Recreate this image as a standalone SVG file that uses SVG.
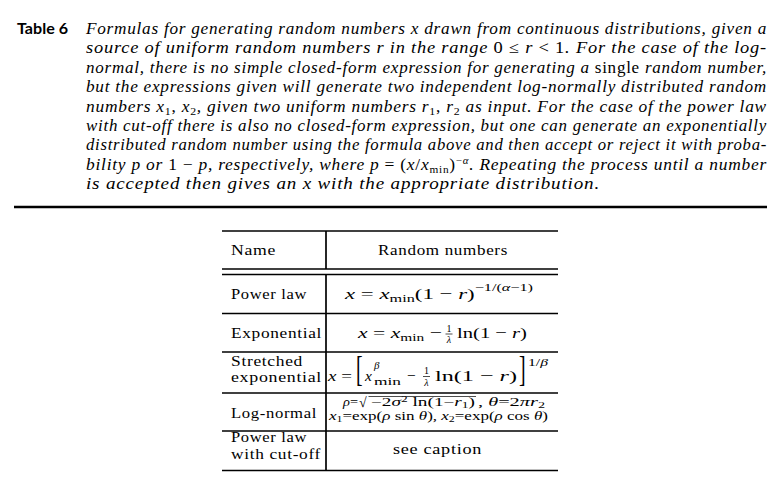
<svg xmlns="http://www.w3.org/2000/svg" width="783" height="485" viewBox="0 0 783 485">
<style>
  .cap { font-family: "Liberation Serif", "Times New Roman", serif; font-style: italic; font-size: 16.2px; letter-spacing: 0.7px; fill: #000; }
  .up { font-style: normal; }
  .lbl { font-family: "Liberation Serif", "Times New Roman", serif; font-size: 15.5px; letter-spacing: 0.6px; fill: #000; }
  .m { font-family: "Liberation Serif", "Times New Roman", serif; font-size: 15.5px; fill: #000; }
  .i { font-style: italic; }
  .s { font-size: 11px; }
  .sm { font-family: "Liberation Serif", "Times New Roman", serif; font-size: 11.5px; fill: #000; }
  .fr { font-family: "Liberation Serif", "Times New Roman", serif; font-size: 10px; fill: #000; }
  .big { font-family: "Liberation Serif", "Times New Roman", serif; font-size: 36px; fill: #000; }
  .rule { stroke: #000; stroke-width: 1.7; }
  .bar { stroke: #000; stroke-width: 0.7; }
</style>
<rect width="783" height="485" fill="#fff"/>

<g id="caption">
  <text x="17" y="34" font-family="Lato, 'Open Sans', sans-serif" font-weight="bold" font-size="16" textLength="51" lengthAdjust="spacingAndGlyphs">Table 6</text>
  <text class="cap" x="86" y="34" textLength="681" lengthAdjust="spacingAndGlyphs">Formulas for generating random numbers x drawn from continuous distributions, given a</text>
  <text class="cap" x="86" y="53.4" textLength="681" lengthAdjust="spacingAndGlyphs">source of uniform random numbers r in the range <tspan class="up">0 ≤ </tspan>r<tspan class="up"> &lt; 1</tspan>.  For the case of the log-</text>
  <text class="cap" x="86" y="72.8" textLength="681" lengthAdjust="spacingAndGlyphs">normal, there is no simple closed-form expression for generating a <tspan class="up">single</tspan> random number,</text>
  <text class="cap" x="86" y="92.2" textLength="681" lengthAdjust="spacingAndGlyphs">but the expressions given will generate two independent log-normally distributed random</text>
  <text class="cap" x="86" y="111.6" textLength="681" lengthAdjust="spacingAndGlyphs">numbers x<tspan class="up" font-size="11" dy="3">1</tspan><tspan class="up" dy="-3">, </tspan>x<tspan class="up" font-size="11" dy="3">2</tspan><tspan dy="-3">, given two uniform numbers r</tspan><tspan class="up" font-size="11" dy="3">1</tspan><tspan class="up" dy="-3">, </tspan>r<tspan class="up" font-size="11" dy="3">2</tspan><tspan dy="-3"> as input. For the case of the power law</tspan></text>
  <text class="cap" x="86" y="131" textLength="681" lengthAdjust="spacingAndGlyphs">with cut-off there is also no closed-form expression, but one can generate an exponentially</text>
  <text class="cap" x="86" y="150.4" textLength="681" lengthAdjust="spacingAndGlyphs">distributed random number using the formula above and then accept or reject it with proba-</text>
  <text class="cap" x="86" y="169.8" textLength="681" lengthAdjust="spacingAndGlyphs">bility p or <tspan class="up">1 − </tspan>p, respectively, where p <tspan class="up">= (</tspan>x<tspan class="up">/</tspan>x<tspan class="up" font-size="10.5" dy="3">min</tspan><tspan class="up" dy="-3">)</tspan><tspan class="up" font-size="10" dy="-5.5">−</tspan><tspan font-size="10">α</tspan><tspan dy="5.5">. Repeating the process until a number</tspan></text>
  <text class="cap" x="86" y="189.2" textLength="514" lengthAdjust="spacingAndGlyphs">is accepted then gives an x with the appropriate distribution.</text>
</g>

<line id="caption-rule" x1="14" y1="207" x2="767" y2="207" stroke="#000" stroke-width="2.6"/>

<g id="table-rules">
  <line class="rule" x1="222" y1="231" x2="558" y2="231"/>
  <line class="rule" x1="222" y1="269" x2="558" y2="269"/>
  <line class="rule" x1="222" y1="274.5" x2="558" y2="274.5"/>
  <line class="rule" x1="222" y1="313.5" x2="558" y2="313.5"/>
  <line class="rule" x1="222" y1="352" x2="558" y2="352"/>
  <line class="rule" x1="222" y1="393" x2="558" y2="393"/>
  <line class="rule" x1="222" y1="431" x2="558" y2="431"/>
  <line class="rule" x1="222" y1="470.5" x2="558" y2="470.5"/>
  <line class="rule" x1="326" y1="231" x2="326" y2="269"/>
  <line class="rule" x1="326" y1="274.5" x2="326" y2="470.5"/>
</g>

<g id="row-header">
  <text class="lbl" x="231" y="255" textLength="45" lengthAdjust="spacingAndGlyphs">Name</text>
  <text class="lbl" x="378" y="255" textLength="130" lengthAdjust="spacingAndGlyphs">Random numbers</text>
</g>

<g id="row-power-law">
  <text class="lbl" x="231" y="299" textLength="76" lengthAdjust="spacingAndGlyphs">Power law</text>
  <text class="m" x="345" y="299" textLength="188" lengthAdjust="spacingAndGlyphs"><tspan class="i">x</tspan> = <tspan class="i">x</tspan><tspan class="s" dy="3">min</tspan><tspan dy="-3">(1 − </tspan><tspan class="i">r</tspan>)<tspan class="s" dy="-8">−1/(</tspan><tspan class="s i">α</tspan><tspan class="s">−1)</tspan></text>
</g>

<g id="row-exponential">
  <text class="lbl" x="231" y="338" textLength="91" lengthAdjust="spacingAndGlyphs">Exponential</text>
  <text class="m" x="358" y="338" textLength="84" lengthAdjust="spacingAndGlyphs"><tspan class="i">x</tspan> = <tspan class="i">x</tspan><tspan class="s" dy="3">min</tspan><tspan dy="-3"> −</tspan></text>
  <text class="fr" x="449" y="331.5" text-anchor="middle">1</text>
  <line class="bar" x1="445.5" y1="334" x2="452.5" y2="334"/>
  <text class="fr i" x="449" y="343" text-anchor="middle">λ</text>
  <text class="m" x="457" y="338" textLength="70" lengthAdjust="spacingAndGlyphs">ln(1 − <tspan class="i">r</tspan>)</text>
</g>

<g id="row-stretched">
  <text class="lbl" x="231" y="366" textLength="72" lengthAdjust="spacingAndGlyphs">Stretched</text>
  <text class="lbl" x="231" y="382" textLength="91" lengthAdjust="spacingAndGlyphs">exponential</text>
  <text class="m" x="328" y="381" textLength="24" lengthAdjust="spacingAndGlyphs"><tspan class="i">x</tspan> =</text>
  <text class="big" x="356" y="381" transform="translate(356 381) scale(0.55 1) translate(-356 -381)">[</text>
  <text class="m i" x="365" y="381">x</text>
  <text class="m i s" x="374" y="369">β</text>
  <text class="m s" x="374" y="385" textLength="27" lengthAdjust="spacingAndGlyphs">min</text>
  <text class="m" x="407" y="381">−</text>
  <text class="fr" x="426.5" y="374" text-anchor="middle">1</text>
  <line class="bar" x1="423" y1="376.5" x2="430" y2="376.5"/>
  <text class="fr i" x="426.5" y="385.5" text-anchor="middle">λ</text>
  <text class="m" x="435" y="381" textLength="82" lengthAdjust="spacingAndGlyphs">ln(1 − <tspan class="i">r</tspan>)</text>
  <text class="big" x="519" y="381" transform="translate(519 381) scale(0.55 1) translate(-519 -381)">]</text>
  <text class="m s" x="528" y="366" textLength="20" lengthAdjust="spacingAndGlyphs">1/<tspan class="i">β</tspan></text>
</g>

<g id="row-log-normal">
  <text class="lbl" x="231" y="418" textLength="86" lengthAdjust="spacingAndGlyphs">Log-normal</text>
  <text class="sm" x="343" y="406" textLength="15" lengthAdjust="spacingAndGlyphs"><tspan class="i">ρ</tspan>=</text>
  <text class="sm" x="359" y="407" style="font-size:14px">√</text>
  <line class="bar" x1="368.5" y1="396.5" x2="476" y2="396.5"/>
  <text class="sm" x="371" y="406" textLength="104" lengthAdjust="spacingAndGlyphs">−2<tspan class="i">σ</tspan><tspan font-size="8" dy="-4">2</tspan><tspan dy="4"> ln(1−</tspan><tspan class="i">r</tspan><tspan font-size="8" dy="2">1</tspan><tspan dy="-2">)</tspan></text>
  <text class="sm" x="478" y="406" textLength="67" lengthAdjust="spacingAndGlyphs">, <tspan class="i">θ</tspan>=2<tspan class="i">πr</tspan><tspan font-size="8" dy="2">2</tspan></text>
  <text class="sm" x="329" y="420" textLength="219" lengthAdjust="spacingAndGlyphs"><tspan class="i">x</tspan><tspan font-size="8" dy="2">1</tspan><tspan dy="-2">=exp(</tspan><tspan class="i">ρ</tspan> sin <tspan class="i">θ</tspan>), <tspan class="i">x</tspan><tspan font-size="8" dy="2">2</tspan><tspan dy="-2">=exp(</tspan><tspan class="i">ρ</tspan> cos <tspan class="i">θ</tspan>)</text>
</g>

<g id="row-cutoff">
  <text class="lbl" x="231" y="442" textLength="76" lengthAdjust="spacingAndGlyphs">Power law</text>
  <text class="lbl" x="231" y="459" textLength="90" lengthAdjust="spacingAndGlyphs">with cut-off</text>
  <text class="lbl" x="393" y="454" textLength="89" lengthAdjust="spacingAndGlyphs">see caption</text>
</g>
</svg>
